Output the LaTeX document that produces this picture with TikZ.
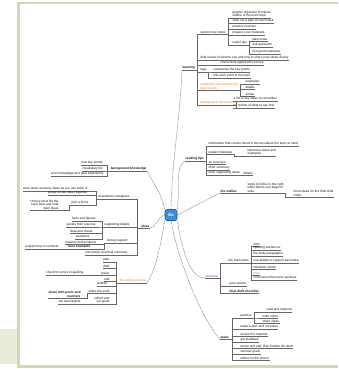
\documentclass[tikz,border=0pt]{standalone}
\usepackage{fontspec}
\newfontfamily\mmff{Liberation Sans}
\newcommand\mmfont{\mmff\fontsize{3.2}{3.7}\selectfont}
\definecolor{framec}{HTML}{D9D4B6}
\definecolor{palec}{HTML}{E7EBD8}
\definecolor{hubc}{HTML}{3D8EDB}
\definecolor{hubl}{HTML}{1F5C9E}
\definecolor{mmorange}{HTML}{F07A1A}
\definecolor{mmpurple}{HTML}{A020C0}
\begin{document}
\begin{tikzpicture}[x=1pt,y=-1pt,
  rt/.style={anchor=south west, font=\mmfont, inner sep=0.3pt, text=black!92, align=left,
    append after command={(\tikzlastnode.south west) edge[ul] (\tikzlastnode.south east)}},
  lt/.style={rt, anchor=south east, align=right},
  bf/.style={font=\mmfont\bfseries},
  orng/.style={text=mmorange},
  purp/.style={text=mmpurple},
  ul/.style={draw=black!60, line width=0.35pt},
  br/.style={draw=black!60, line width=0.4pt},
  cn/.style={draw=black!50, line width=0.55pt, dash pattern=on 1.2pt off 0.8pt},
  hub/.style={draw=hubl, fill=hubc, rounded corners=2pt, line width=0.6pt, minimum width=12pt, minimum height=11pt, inner sep=0pt, font=\mmff\fontsize{4}{4}\selectfont\bfseries, text=white}
]
\useasboundingbox (0,0) rectangle (338,369);
\fill[white] (0,0) rectangle (338,369);
\fill[palec] (0,329) rectangle (17,364);
\fill[framec] (17,2) rectangle (20,367);
\fill[framec] (17,2) rectangle (338,4.5);
\fill[framec] (17,365) rectangle (338,367.5);

% hub
\node[hub] (c) at (171,215) {Ba};

% ---------- branch A (top right)
\node[rt,bf] (A) at (182,70) {learning};
\node[rt] (a1) at (200,34) {section one notes};
\node[rt] (a11) at (232,18) {graphic organizer for ideas\\outline of the main topic};
\node[rt] (a12) at (232,23) {write out a plan for each task};
\node[rt] (a13) at (232,29) {practice routines};
\node[rt] (a14) at (232,35) {prepare your materials};
\node[rt] (a15) at (232,45) {useful tips};
\node[rt] (a151) at (252,41) {take notes};
\node[rt] (a152) at (252,47) {ask questions};
\node[rt] (a153) at (252,54) {find good examples};
\node[rt] (a2) at (200,60) {final review of what to say and how to share your ideas clearly};
\node[rt] (a3) at (220,65) {check facts against the source};
\node[rt] (a4) at (200,72) {tags};
\node[rt] (a41) at (213,72) {summarize the key points};
\node[rt] (a42) at (213,78) {link each point to the topic};
\node[rt,orng] (a5) at (200,90) {questions and answers for\\later review};
\node[rt] (a51) at (245,84) {examples};
\node[rt] (a52) at (245,89) {details};
\node[rt] (a53) at (245,96) {extras};
\node[rt,orng] (a6) at (200,105) {background information};
\node[rt] (a61) at (233,101) {a list of key ideas to remember};
\node[rt] (a62) at (233,108) {an outline of what to say first};

\foreach \c in {a1,a2,a3,a4,a5,a6} \draw[br] (A.south east) -- ++(2,0) |- (\c.south west);
\foreach \c in {a11,a12,a13,a14,a15} \draw[br] (a1.south east) -- ++(2,0) |- (\c.south west);
\foreach \c in {a151,a152,a153} \draw[br] (a15.south east) -- ++(2,0) |- (\c.south west);
\foreach \c in {a41,a42} \draw[br] (a4.south east) -- ++(1.5,0) |- (\c.south west);
\foreach \c in {a51,a52,a53} \draw[br] (a5.south east) -- ++(2,0) |- (\c.south west);
\foreach \c in {a61,a62} \draw[br] (a6.south east) -- ++(1.5,0) |- (\c.south west);

% ---------- branch B
\node[rt,bf] (B) at (185,161) {reading tips};
\node[rt] (b1) at (208,146) {information that can be found in the text about the topic at hand};
\node[rt] (b2) at (208,154) {related materials};
\node[rt] (b21) at (247,156) {reference notes and\\examples};
\node[rt] (b3) at (208,164) {an overview};
\node[rt] (b4) at (208,170) {short summary};
\node[rt] (b5) at (208,175) {main supporting ideas};
\node[rt] (b51) at (243,175) {details};
\foreach \c in {b1,b2,b3,b4,b5} \draw[br] (B.south east) -- ++(2,0) |- (\c.south west);
\draw[br] (b2.south east) -- ++(2,0) |- (b21.south west);
\draw[br] (b5.south east) -- (b51.south west);

% ---------- branch C
\node[rt,bf] (C) at (220,193) {the outline};
\node[rt] (c1) at (247,193) {steps to follow in the right\\order before you begin to\\write};
\node[rt] (c11) at (293,197) {more ideas for the final draft\\notes};
\draw[br] (C.south east) -- (c1.south west);
\draw[br] (c1.south east) -- ++(1,0) |- (c11.south west);

% ---------- branch D
\node[rt,purp] (D) at (205,278) {structure};
\node[rt] (d1) at (228,263) {the main parts};
\node[rt] (d11) at (253,246) {intro};
\node[rt] (d12) at (253,250) {opening sentences};
\node[rt] (d13) at (253,256) {the body paragraphs};
\node[rt] (d14) at (253,263) {use details to support each idea};
\node[rt] (d15) at (253,269) {transition words};
\node[rt,orng] (d16) at (253,275) {tone};
\node[rt] (d17) at (253,280) {conclusion that sums up ideas};
\node[rt] (d2) at (229,286) {peer review};
\node[rt,bf] (d3) at (229,293) {final draft checklist};
\foreach \c in {d1,d2,d3} \draw[br] (D.south east) -- ++(2,0) |- (\c.south west);
\foreach \c in {d11,d12,d13,d14,d15,d16,d17} \draw[br] (d1.south east) -- ++(2,0) |- (\c.south west);

% ---------- branch E
\node[rt,bf] (E) at (220,339) {tasks};
\node[rt] (e1) at (240,318) {practice};
\node[rt] (e11) at (266,312) {read and respond};
\node[rt] (e12) at (262,318) {write notes};
\node[rt] (e13) at (262,323) {share ideas};
\node[rt] (e2) at (240,329) {make a plan and schedule};
\node[rt] (e3) at (240,336) {review the material};
\node[rt] (e4) at (240,342) {get feedback};
\node[rt] (e5) at (240,348) {revise and edit, then finalize the draft};
\node[rt] (e6) at (240,354) {set new goals};
\node[rt] (e7) at (240,360) {reflect on the lesson};
\foreach \c in {e1,e2,e3,e4,e5,e6,e7} \draw[br] (E.south east) -- ++(3,0) |- (\c.south west);
\foreach \c in {e11,e12,e13} \draw[br] (e1.south east) -- ++(2,0) |- (\c.south west);

% ---------- branch F (upper left)
\node[lt,bf] (F) at (147,171) {background knowledge};
\node[lt] (f1) at (103,165) {new key words};
\node[lt] (f2) at (103,171) {vocabulary list};
\node[lt] (f3) at (104,176) {prior knowledge and past experience};
\foreach \c in {f1,f2,f3} \draw[br] (F.south west) -- ++(-3,0) |- (\c.south east);

% ---------- branch G (left)
\node[lt,bf] (G) at (150,228) {ideas};
\node[lt] (g1) at (130,199) {brainstorm categories};
\node[lt] (g11) at (88,191) {write down as many ideas as you can think of};
\node[lt] (g12) at (88,195) {group similar ideas together};
\node[lt] (g13) at (89,205) {pick a focus};
\node[lt] (g131) at (59,210) {choose what fits the\\topic best and note\\main ideas};
\node[lt] (g2) at (130,227) {supporting details};
\node[lt] (g21) at (96,221) {facts and figures};
\node[lt] (g22) at (96,227) {quotes from sources};
\node[lt] (g23) at (93,233) {data and charts};
\node[lt] (g24) at (90,239) {examples};
\node[lt] (g3) at (128,243) {strong support};
\node[lt] (g31) at (97,244) {reasons and evidence};
\node[lt,bf] (g32) at (91,249) {best examples};
\node[lt] (g321) at (59,249) {explain how it connects};
\node[lt] (g4) at (128,255) {conclusion and final summary};
\foreach \c in {g1,g2,g3,g4} \draw[br] (G.south west) -- ++(-4,0) |- (\c.south east);
\foreach \c in {g11,g12,g13} \draw[br] (g1.south west) -- ++(-2,0) |- (\c.south east);
\draw[br] (g13.south west) -- ++(-2,0) |- (g131.south east);
\foreach \c in {g21,g22,g23,g24} \draw[br] (g2.south west) -- ++(-1.5,0) |- (\c.south east);
\foreach \c in {g31,g32} \draw[br] (g3.south west) -- ++(-2,0) |- (\c.south east);
\draw[br] (g32.south west) -- (g321.south east);

% ---------- branch H (lower left)
\node[lt,orng] (H) at (147,283) {the writing process};
\node[lt] (h1) at (110,262) {plan};
\node[lt] (h2) at (110,268) {draft};
\node[lt] (h3) at (110,275) {revise};
\node[lt] (h31) at (84,275) {check for errors in spelling};
\node[lt] (h4) at (110,281) {edit};
\node[lt] (h5) at (108,286) {publish};
\node[lt] (h6) at (110,293) {share the work};
\node[lt,bf] (h61) at (81,298) {share with peers and\\teachers};
\node[lt] (h7) at (110,304) {reflect and\\set goals};
\node[lt] (h71) at (81,304) {set new targets};
\foreach \c in {h1,h2,h3,h4,h5,h6,h7} \draw[br] (H.south west) -- ++(-3,0) |- (\c.south east);
\draw[br] (h3.south west) -- (h31.south east);
\draw[br] (h6.south west) -- ++(-1,0) |- (h61.south east);
\draw[br] (h7.south west) -- (h71.south east);

% ---------- hub connectors
\draw[cn] (c.north) .. controls +(1,-50) and +(-2,50) .. (A.south west);
\draw[cn] (c.north east) .. controls +(3,-25) and +(-10,5) .. (B.south west);
\draw[cn] (c.east) -- (C.south west);
\draw[cn] (c.south east) .. controls +(5,30) and +(-15,0) .. (D.south west);
\draw[cn] (c.south) .. controls +(8,45) and +(-15,-15) .. (E.south west);
\draw[cn] (c.north west) .. controls +(-5,-20) and +(5,10) .. (F.south east);
\draw[cn] (c.west) .. controls +(-8,3) and +(6,0) .. (G.south east);
\draw[cn] (c.south west) .. controls +(-5,30) and +(8,-12) .. (H.south east);
\end{tikzpicture}
\end{document}
